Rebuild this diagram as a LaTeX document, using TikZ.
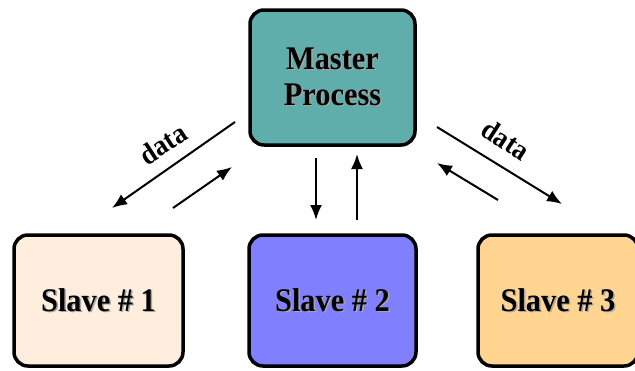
\documentclass[tikz,border=0pt]{standalone}
\usepackage{fontspec}
\setmainfont{Liberation Serif}
\newfontfamily\boxfont[FakeStretch=0.92]{Liberation Serif}
\usetikzlibrary{positioning, arrows.meta}

\definecolor{mastercol}{RGB}{95,174,172}
\definecolor{slaveone}{RGB}{255,238,222}
\definecolor{slavetwo}{RGB}{128,128,255}
\definecolor{slavethree}{RGB}{255,213,145}

% grey drop shadow behind the box text
\newcommand{\shtext}[1]{\leavevmode\rlap{\kern1.5pt\raisebox{-1.5pt}{\textcolor{black!35}{#1}}}#1}

\tikzset{
	proc/.style={draw, line width=3.5pt, rounded corners=14pt, align=center,
		font=\boxfont\bfseries\fontsize{33}{36}\selectfont},
	flow/.style={-{Latex[length=15pt,width=12pt]}, line width=2pt},
	lbl/.style={font=\boxfont\bfseries\fontsize{29}{30}\selectfont}
}

\begin{document}
\begin{tikzpicture}[x=1pt, y=-1pt]
	\useasboundingbox (0,0) rectangle (635,370);

	\node[proc, fill=mastercol, minimum width=165pt, minimum height=135pt] (master) at (332.5,77.5) {\shtext{Master}\\\shtext{Process}};
	\node[proc, fill=slaveone, minimum width=169pt, minimum height=131pt] (s1) at (98.5,300.5) {\shtext{Slave \# 1}};
	\node[proc, fill=slavetwo, minimum width=167pt, minimum height=131pt] (s2) at (332.5,300.5) {\shtext{Slave \# 2}};
	\node[proc, fill=slavethree, minimum width=160pt, minimum height=131pt] (s3) at (558,300.5) {\shtext{Slave \# 3}};

	% arrow end points
	\coordinate (l-a) at (235,122);
	\coordinate (l-b) at (112,208);
	\coordinate (l-c) at (173,208);
	\coordinate (l-d) at (232,167);
	\coordinate (m-a) at (316,158);
	\coordinate (m-b) at (316,220);
	\coordinate (m-c) at (357,220);
	\coordinate (m-d) at (357,154);
	\coordinate (r-a) at (437,127);
	\coordinate (r-b) at (562,204);
	\coordinate (r-c) at (498,200);
	\coordinate (r-d) at (437,163);

	\draw [flow] (l-a) -- (l-b);
	\draw [flow] (l-c) -- (l-d);
	\draw [flow] (m-a) -- (m-b);
	\draw [flow] (m-c) -- (m-d);
	\draw [flow] (r-a) -- (r-b);
	\draw [flow] (r-c) -- (r-d);

	\node[lbl, rotate=33] (dl) at (163,144) {data};
	\node[lbl, rotate=-33] (dr) at (506,140) {data};
\end{tikzpicture}
\end{document}
